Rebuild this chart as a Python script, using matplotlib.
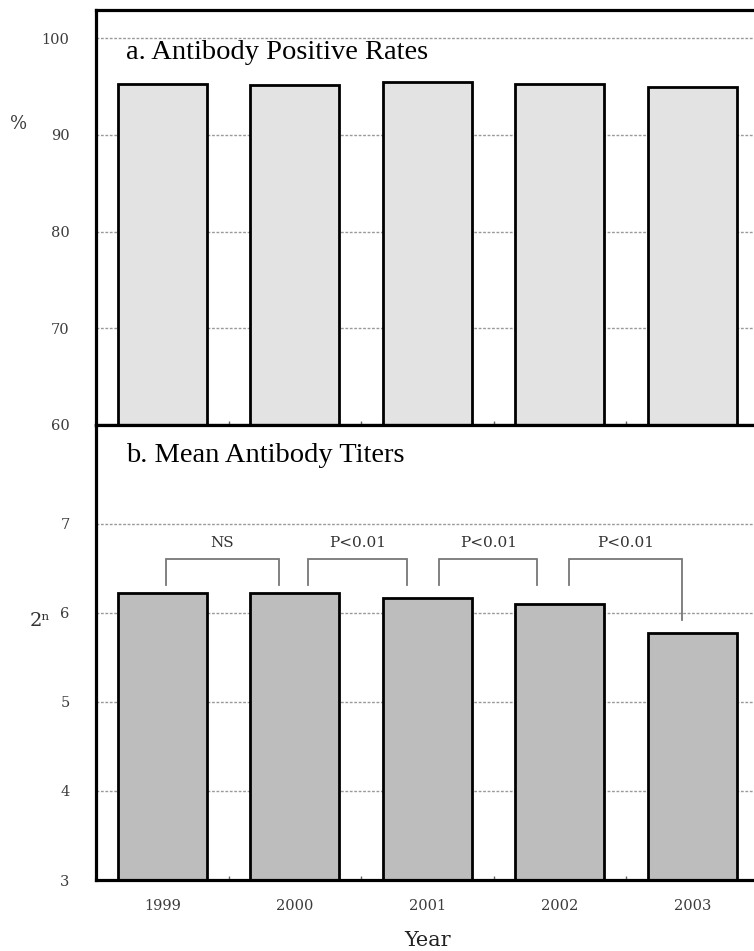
import matplotlib
matplotlib.use("Agg")
import matplotlib.pyplot as plt
from matplotlib.ticker import FixedLocator

# Data
years = ["1999", "2000", "2001", "2002", "2003"]
positive_rates = [95.3, 95.1, 95.5, 95.3, 94.9]      # %
mean_titers = [6.22, 6.22, 6.165, 6.10, 5.775]        # log2 titre
comparisons = ["NS", "P<0.01", "P<0.01", "P<0.01"]    # year i vs year i+1

rate_ticks = [60, 70, 80, 90, 100]
titer_ticks = [3, 4, 5, 6, 7]

SERIF = ["DejaVu Serif"]
TICK_COLOR = "#3c3c3c"

fig = plt.figure(figsize=(7.54, 9.51), dpi=100)
W, H = 754, 951
left = 96 / W
width = 662.5 / W
ax_a = fig.add_axes([left, 1 - 425 / H, width, 415 / H])
ax_b = fig.add_axes([left, 1 - 880 / H, width, 455 / H])

x = list(range(len(years)))


def style_axes(ax, ticks, ylim):
    ax.set_xlim(-0.5, len(years) - 0.5)
    ax.set_ylim(*ylim)
    ax.yaxis.set_major_locator(FixedLocator(ticks))
    ax.xaxis.set_minor_locator(FixedLocator([i + 0.5 for i in range(len(years) - 1)]))
    ax.grid(axis="y", color="#9a9a9a", linestyle=(0, (2, 1.2)), linewidth=1.0, zorder=0)
    ax.set_axisbelow(True)
    for s in ax.spines.values():
        s.set_linewidth(2.3)
        s.set_color("black")
    ax.tick_params(axis="y", which="major", length=0, pad=19, labelsize=10.5,
                   labelcolor=TICK_COLOR)
    ax.tick_params(axis="x", which="major", length=0, pad=14, labelsize=10.5,
                   labelcolor=TICK_COLOR)
    ax.tick_params(axis="x", which="minor", direction="in", length=3, width=1,
                   color="#666666")
    for lab in ax.get_yticklabels() + ax.get_xticklabels():
        lab.set_family(SERIF)


# a. Antibody positive rates
ax_a.bar(x, positive_rates, width=0.67, color="#e3e3e3", edgecolor="black",
         linewidth=2.0, zorder=2)
style_axes(ax_a, rate_ticks, (60, 102.9))
ax_a.set_xticks(x)
ax_a.set_xticklabels([])
ax_a.text(0.045, 0.897, "a. Antibody Positive Rates", transform=ax_a.transAxes,
          family=["Liberation Serif"], fontsize=20.5, va="center", ha="left")

# b. Mean antibody titres
ax_b.bar(x, mean_titers, width=0.67, color="#bdbdbd", edgecolor="black",
         linewidth=2.0, zorder=2)
style_axes(ax_b, titer_ticks, (3, 8.11))
ax_b.set_xticks(x)
ax_b.set_xticklabels(years)
for lab in ax_b.get_xticklabels():
    lab.set_family(SERIF)
ax_b.text(0.045, 0.932, "b. Mean Antibody Titers", transform=ax_b.transAxes,
          family=["Liberation Serif"], fontsize=20.5, va="center", ha="left")

# significance brackets between consecutive years
bracket_left = [0.03, 1.10, 2.09, 3.07]
bracket_right = [0.88, 1.85, 2.83, 3.92]
bracket_top = 6.61
leg_bottom = 6.31
for i, label in enumerate(comparisons):
    xl, xr = bracket_left[i], bracket_right[i]
    right_bottom = leg_bottom if i < len(comparisons) - 1 else mean_titers[i + 1] + 0.15
    ax_b.plot([xl, xl, xr, xr], [leg_bottom, bracket_top, bracket_top, right_bottom],
              color="#777777", linewidth=1.3, zorder=3, solid_joinstyle="miter")
    ax_b.text((xl + xr) / 2, 6.79, label, ha="center", va="center",
              family=SERIF, fontsize=11, color="#333333")

# axis captions
fig.text(19 / W, 1 - 124 / H, "%", family=SERIF, fontsize=13, color=TICK_COLOR,
         ha="center", va="center")
fig.text(40 / W, 1 - 621 / H, "2ⁿ", family=SERIF, fontsize=14, color="#333333",
         ha="center", va="center")
fig.text(428 / W, 1 - 940 / H, "Year", family=SERIF, fontsize=15, color="#222222",
         ha="center", va="center")

fig.savefig("out.png", dpi=100)
